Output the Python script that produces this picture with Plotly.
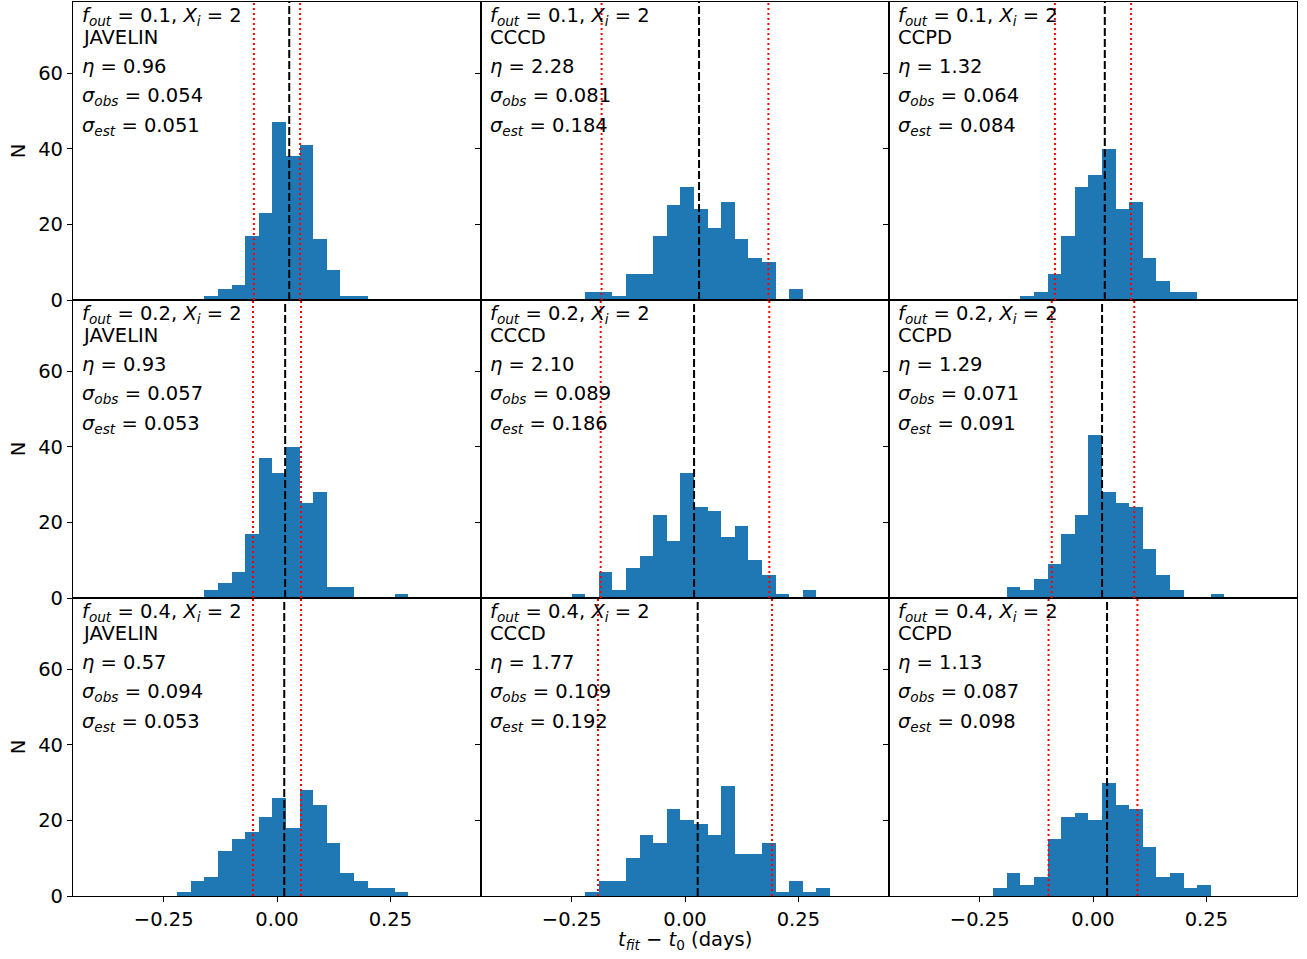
import plotly.graph_objects as go
from plotly.subplots import make_subplots

# ---------------- data ----------------
bin_left_edges = [-0.25, -0.22, -0.19, -0.16, -0.13, -0.10, -0.07, -0.04, -0.01,
                  0.02, 0.05, 0.08, 0.11, 0.14, 0.17, 0.20, 0.23, 0.26, 0.29]
bin_width = 0.03

methods = ["JAVELIN", "CCCD", "CCPD"]
f_out = ["0.1", "0.2", "0.4"]
X_i = "2"

# counts per row (f_out) and column (method)
counts_r1_javelin = [0, 0, 0, 1, 3, 4, 17, 23, 47, 38, 41, 16, 8, 1, 1, 0, 0, 0, 0]
counts_r1_cccd    = [0, 2, 2, 1, 7, 7, 17, 25, 30, 24, 19, 26, 16, 11, 10, 0, 3, 0, 0]
counts_r1_ccpd    = [0, 0, 0, 1, 2, 7, 17, 30, 33, 40, 24, 26, 11, 5, 2, 2, 0, 0, 0]
counts_r2_javelin = [0, 0, 0, 2, 4, 7, 17, 37, 33, 40, 25, 28, 3, 3, 0, 0, 0, 1, 0]
counts_r2_cccd    = [1, 0, 7, 2, 8, 11, 22, 15, 33, 24, 23, 16, 19, 10, 6, 1, 0, 2, 0]
counts_r2_ccpd    = [0, 0, 3, 2, 5, 9, 17, 22, 43, 28, 25, 24, 13, 6, 2, 0, 0, 1, 0]
counts_r3_javelin = [0, 1, 4, 5, 12, 15, 17, 21, 26, 18, 28, 24, 14, 6, 4, 2, 2, 1, 0]
counts_r3_cccd    = [0, 1, 4, 4, 10, 16, 14, 23, 20, 19, 16, 29, 11, 11, 14, 1, 4, 1, 2]
counts_r3_ccpd    = [0, 2, 6, 3, 5, 15, 21, 22, 20, 30, 24, 23, 13, 5, 6, 2, 3, 0, 0]

counts = [[counts_r1_javelin, counts_r1_cccd, counts_r1_ccpd],
          [counts_r2_javelin, counts_r2_cccd, counts_r2_ccpd],
          [counts_r3_javelin, counts_r3_cccd, counts_r3_ccpd]]

eta = [["0.96", "2.28", "1.32"], ["0.93", "2.10", "1.29"], ["0.57", "1.77", "1.13"]]
sigma_obs = [["0.054", "0.081", "0.064"], ["0.057", "0.089", "0.071"], ["0.094", "0.109", "0.087"]]
sigma_est = [[0.051, 0.184, 0.084], [0.053, 0.186, 0.091], [0.053, 0.192, 0.098]]
center_offset = [[0.027, 0.031, 0.026], [0.018, 0.020, 0.020], [0.016, 0.028, 0.031]]

x_tickvals = [-0.25, 0.0, 0.25]
x_ticktext = ["\u22120.25", "0.00", "0.25"]
y_tickvals = [0, 20, 40, 60]
x_range = [-0.45, 0.45]
y_range = [0, 78.8]

# ---------------- figure ----------------
FONT = "DejaVu Sans"
FS = 19.5
BAR = "#1f77b4"

fig = make_subplots(rows=3, cols=3, horizontal_spacing=0, vertical_spacing=0)

centers = [e + bin_width / 2 for e in bin_left_edges]

for r in range(3):
    for c in range(3):
        n = r * 3 + c + 1
        xs = "" if n == 1 else str(n)
        fig.add_trace(go.Bar(x=centers, y=counts[r][c], width=bin_width,
                             marker=dict(color=BAR, line=dict(width=0)),
                             showlegend=False, hoverinfo="x+y"),
                      row=r + 1, col=c + 1)
        xref = f"x{xs}"
        yd = f"y{xs} domain"
        xd = f"x{xs} domain"
        # red dotted at +/- sigma_est
        for v in (-sigma_est[r][c], sigma_est[r][c]):
            fig.add_shape(type="line", x0=v, x1=v, y0=0, y1=1, xref=xref, yref=yd,
                          line=dict(color="red", width=2, dash="2px,3px"))
        # black dashed at centre offset
        v = center_offset[r][c]
        fig.add_shape(type="line", x0=v, x1=v, y0=0, y1=1, xref=xref, yref=yd,
                      line=dict(color="black", width=2, dash="8px,3px"))

        texts = [
            (f"<i>f</i><sub><i>out</i></sub> = {f_out[r]}, <i>X</i><sub><i>i</i></sub> = {X_i}", 0.950),
            (methods[c], 0.882),
            (f"<i>\u03b7</i> = {eta[r][c]}", 0.785),
            (f"<i>\u03c3</i><sub><i>obs</i></sub> = {sigma_obs[r][c]}", 0.682),
            (f"<i>\u03c3</i><sub><i>est</i></sub> = {sigma_est[r][c]:.3f}", 0.582),
        ]
        for t, yy in texts:
            fig.add_annotation(text=t, x=0.017, y=yy, xref=xd, yref=yd,
                               xanchor="left", yanchor="middle", showarrow=False,
                               font=dict(family=FONT, size=FS, color="black"))

        fig.update_xaxes(row=r + 1, col=c + 1, range=x_range, tickvals=x_tickvals,
                         ticktext=x_ticktext, showticklabels=(r == 2),
                         ticks="outside" if r == 2 else "", ticklen=5, tickwidth=1.2,
                         tickcolor="black", showline=True, mirror=True, automargin=False,
                         linecolor="black", linewidth=1.2, showgrid=False, zeroline=False,
                         tickfont=dict(family=FONT, size=FS, color="black"))
        fig.update_yaxes(row=r + 1, col=c + 1, range=y_range, tickvals=y_tickvals,
                         showticklabels=(c == 0), ticks="outside", ticklen=5,
                         tickwidth=1.2, tickcolor="black", showline=True, mirror=True,
                         automargin=False,
                         linecolor="black", linewidth=1.2, showgrid=False, zeroline=False,
                         tickfont=dict(family=FONT, size=FS, color="black"))
    # N label per row
    ys = "" if r == 0 else str(r * 3 + 1)
    fig.add_annotation(text="N", x=-0.0447, y=0.5, xref="paper", yref=f"y{ys} domain",
                       textangle=-90, showarrow=False, xanchor="center", yanchor="middle",
                       font=dict(family=FONT, size=FS, color="black"))

fig.add_annotation(text="<i>t</i><sub><i>fit</i></sub> \u2212 <i>t</i><sub>0</sub> (days)",
                   x=0.5, y=-0.05, xref="paper", yref="paper", showarrow=False,
                   xanchor="center", yanchor="middle",
                   font=dict(family=FONT, size=FS, color="black"))

fig.update_layout(width=1307, height=959, bargap=0,
                  margin=dict(l=73, r=10, t=2, b=63, autoexpand=False),
                  plot_bgcolor="white", paper_bgcolor="white",
                  font=dict(family=FONT, size=FS, color="black"))

fig.write_html("out.html", config={"displayModeBar": False},
               post_script="document.body.style.margin='0';"
                           "document.body.style.overflow='hidden';")
